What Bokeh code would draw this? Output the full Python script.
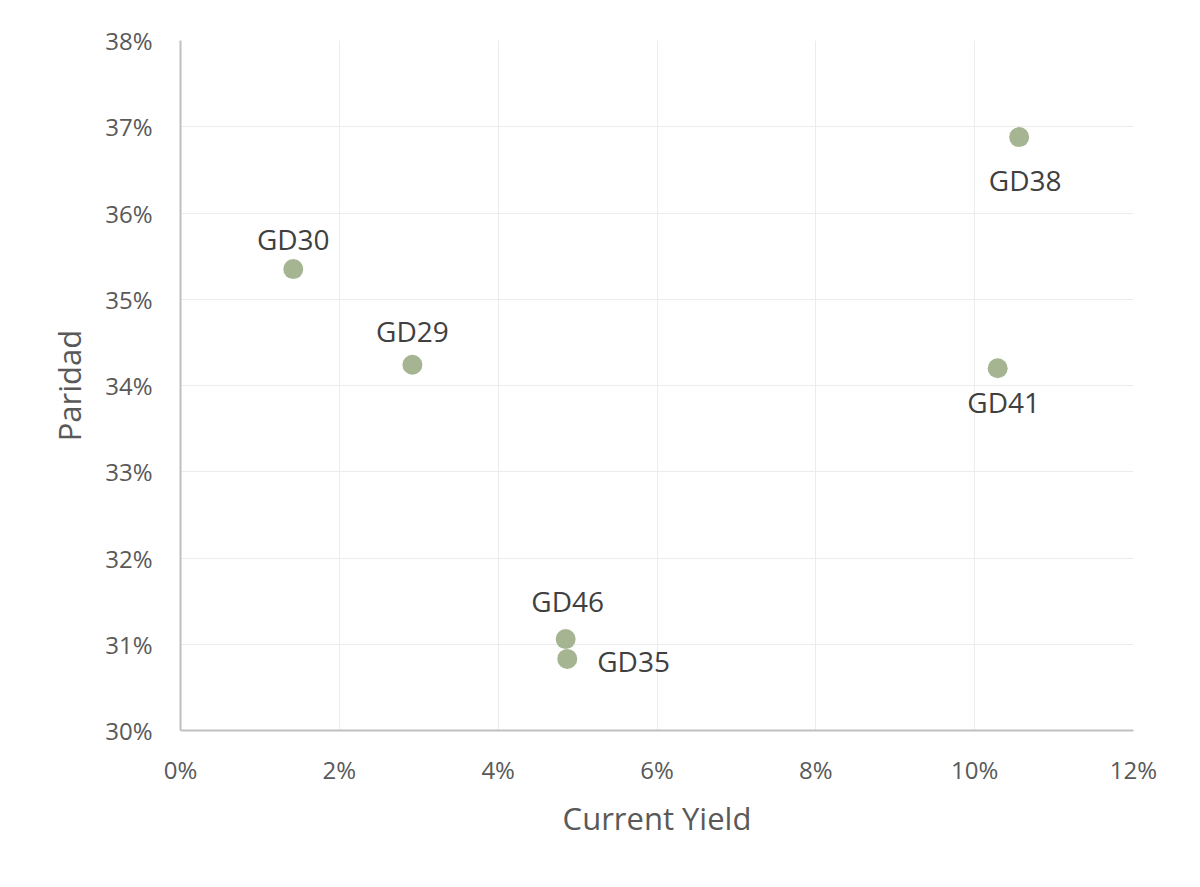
from bokeh.plotting import figure
from bokeh.models import ColumnDataSource, NumeralTickFormatter, FixedTicker, Range1d
from bokeh.core.properties import value
from bokeh.embed import file_html
from bokeh.resources import INLINE

# data (fractions)
names = ["GD29", "GD30", "GD35", "GD38", "GD41", "GD46"]
current_yield = [0.0292, 0.0142, 0.0487, 0.1056, 0.1029, 0.0485]
paridad = [0.3424, 0.3535, 0.3083, 0.3688, 0.3420, 0.3106]

x_ticks = [0.00, 0.02, 0.04, 0.06, 0.08, 0.10, 0.12]
y_ticks = [0.30, 0.31, 0.32, 0.33, 0.34, 0.35, 0.36, 0.37, 0.38]

# label placement (pixels), one per point
label_dx = [0, 0, 30, 6, 6, 2]
label_dy = [-34, -30, 2, 43, 34, -38]
label_align = ["center", "center", "left", "center", "center", "center"]

FONT = "Open Sans"

src = ColumnDataSource(dict(x=current_yield, y=paridad, name=names,
                            dx=label_dx, dy=label_dy, align=label_align))

p = figure(width=1184, height=870, output_backend="svg", toolbar_location=None,
           x_range=Range1d(0, 0.12), y_range=Range1d(0.30, 0.38),
           min_border_left=180, min_border_right=51, min_border_top=40,
           min_border_bottom=140)
p.outline_line_color = None
p.background_fill_color = "white"

for ax in (p.xaxis[0], p.yaxis[0]):
    ax.major_tick_line_color = None
    ax.minor_tick_line_color = None
    ax.axis_line_color = "#bfbfbf"
    ax.axis_line_width = 2
    ax.major_label_text_font = FONT
    ax.major_label_text_font_size = "24px"
    ax.major_label_text_color = "#595959"
    ax.axis_label_text_font = FONT
    ax.axis_label_text_font_size = "31px"
    ax.axis_label_text_font_style = "normal"
    ax.axis_label_text_color = "#595959"

p.xaxis.ticker = FixedTicker(ticks=x_ticks)
p.yaxis.ticker = FixedTicker(ticks=y_ticks)
p.xaxis.formatter = NumeralTickFormatter(format="0%")
p.yaxis.formatter = NumeralTickFormatter(format="0%")
p.xaxis.axis_label = "Current Yield"
p.yaxis.axis_label = "Paridad"
p.xaxis.major_label_standoff = 16
p.yaxis.major_label_standoff = 22
p.xaxis.axis_label_standoff = 8
p.yaxis.axis_label_standoff = 12

p.xgrid.grid_line_color = "#ececec"
p.ygrid.grid_line_color = "#ececec"

p.scatter("x", "y", source=src, size=20, fill_color="#a5b592", line_color=None)
p.text("x", "y", text="name", source=src, x_offset="dx", y_offset="dy",
       text_align="align", text_baseline="middle",
       text_font=value(FONT), text_font_size="28px", text_color="#404040")

open("out.html", "w").write(file_html(p, INLINE))
